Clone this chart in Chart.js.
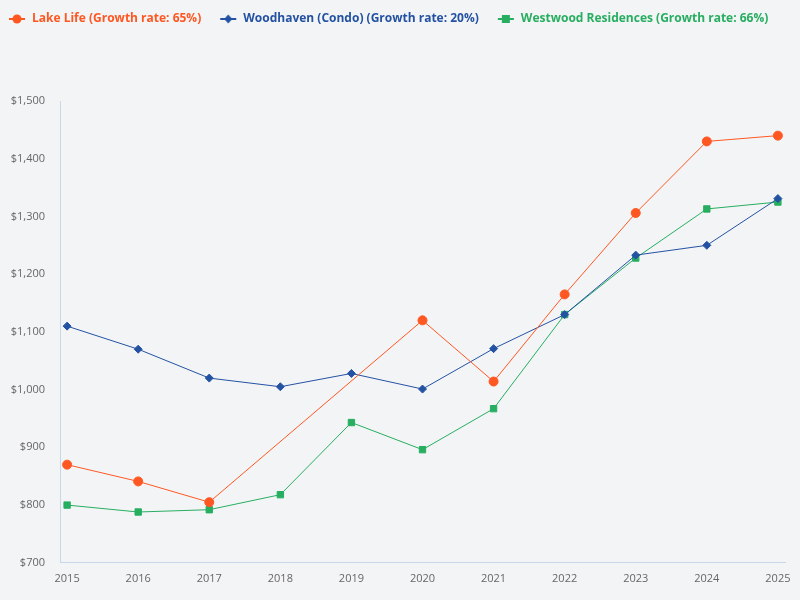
<!DOCTYPE html>
<html>
<head>
<meta charset="utf-8">
<script src="https://cdn.jsdelivr.net/npm/chart.js@4.4.1/dist/chart.umd.min.js"></script>
<style>
html,body{margin:0;padding:0;background:#F3F4F6;}
#wrap{width:800px;height:600px;}
</style>
</head>
<body>
<div id="wrap"><canvas id="c" width="800" height="600"></canvas></div>
<script>
const years = [2015, 2016, 2017, 2018, 2019, 2020, 2021, 2022, 2023, 2024, 2025];
const lakeLife = [870, 841, 805, null, null, 1120, 1014, 1165, 1306, 1430, 1440];
const woodhaven = [1110, 1070, 1020, 1005, 1028, 1001, 1071, 1130, 1233, 1250, 1331];
const westwood = [800, 788, 792, 818, 943, 896, 967, 1130, 1228, 1313, 1325];
const seriesNames = ['Lake Life (Growth rate: 65%)', 'Woodhaven (Condo) (Growth rate: 20%)', 'Westwood Residences (Growth rate: 66%)'];
const yTicks = [700, 800, 900, 1000, 1100, 1200, 1300, 1400, 1500];

const RED = '#FF5722', BLUE = '#2452A3', GREEN = '#27AE60';

function legendIcon(color, style) {
  const cv = document.createElement('canvas');
  const w = 26, h = 12;
  cv.width = w; cv.height = h;
  const g = cv.getContext('2d');
  g.strokeStyle = color; g.fillStyle = color; g.lineWidth = 2;
  g.beginPath(); g.moveTo(9, h/2); g.lineTo(25, h/2); g.stroke();
  const cx = 17, cy = h/2;
  g.beginPath();
  if (style === 'circle') { g.arc(cx, cy, 4.5, 0, Math.PI*2); }
  else if (style === 'rectRot') { g.moveTo(cx, cy-4.5); g.lineTo(cx+4, cy); g.lineTo(cx, cy+4.5); g.lineTo(cx-4, cy); g.closePath(); }
  else { g.rect(cx-4, cy-4, 8, 8); }
  g.fill();
  return cv;
}

const legendSpace = {
  id: 'legendSpace',
  beforeInit(chart) {
    const orig = chart.legend.fit;
    chart.legend.fit = function () { orig.call(this); this.height += 66; };
  }
};

const toPts = arr => arr.map((v, i) => ({x: years[i], y: v}));

new Chart(document.getElementById('c'), {
  type: 'line',
  plugins: [legendSpace],
  data: {
    datasets: [
      {label: seriesNames[0], data: toPts(lakeLife), borderColor: RED, backgroundColor: RED, borderWidth: 1,
       pointStyle: 'circle', pointRadius: 4.5, pointHoverRadius: 4.5, pointBorderWidth: 1, spanGaps: true, legendIcon: legendIcon(RED, 'circle')},
      {label: seriesNames[1], data: toPts(woodhaven), borderColor: BLUE, backgroundColor: BLUE, borderWidth: 1,
       pointStyle: 'rectRot', pointRadius: 4, pointHoverRadius: 4, pointBorderWidth: 1, spanGaps: true, legendIcon: legendIcon(BLUE, 'rectRot')},
      {label: seriesNames[2], data: toPts(westwood), borderColor: GREEN, backgroundColor: GREEN, borderWidth: 1,
       pointStyle: 'rect', pointRadius: 4.5, pointHoverRadius: 4.5, pointBorderWidth: 1, spanGaps: true, legendIcon: legendIcon(GREEN, 'rect')}
    ]
  },
  options: {
    responsive: false,
    animation: false,
    layout: {padding: {left: -10, right: 15, top: 3, bottom: 6}},
    plugins: {
      tooltip: {enabled: false},
      legend: {
        position: 'top', align: 'start',
        labels: {
          usePointStyle: true, pointStyleWidth: 26, padding: 10,
          font: {family: 'Open Sans', size: 12, weight: 'bold'},
          generateLabels: chart => chart.data.datasets.map((ds, i) => ({
            text: ds.label, fontColor: ds.borderColor, pointStyle: ds.legendIcon,
            strokeStyle: ds.borderColor, fillStyle: ds.borderColor, lineWidth: 0, datasetIndex: i, hidden: false
          }))
        }
      }
    },
    scales: {
      x: {
        type: 'linear', min: 2014.9, max: 2025.1,
        afterBuildTicks: s => { s.ticks = years.map(v => ({value: v})); },
        grid: {display: false, drawTicks: false},
        border: {display: true, color: '#C9D6E8', width: 1},
        ticks: {padding: 9, color: '#666', font: {family: 'Open Sans', size: 11}, callback: v => String(v)}
      },
      y: {
        min: 700, max: 1500,
        afterBuildTicks: s => { s.ticks = yTicks.map(v => ({value: v})); },
        afterFit: s => { s.width = 70; },
        grid: {display: false, drawTicks: false},
        border: {display: true, color: '#C9D6E8', width: 1},
        ticks: {padding: 15, color: '#666', font: {family: 'Open Sans', size: 11},
          callback: v => '$' + v.toLocaleString('en-US')}
      }
    }
  }
});
</script>
</body>
</html>
